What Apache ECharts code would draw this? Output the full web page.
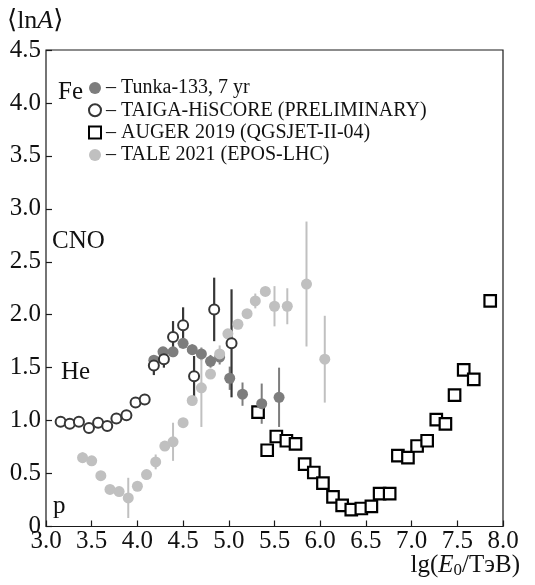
<!DOCTYPE html>
<html>
<head>
<meta charset="utf-8">
<script src="https://cdn.jsdelivr.net/npm/echarts@6/dist/echarts.min.js"></script>
<style>
  html, body { margin: 0; padding: 0; background: #fff; }
  #chart { width: 535px; height: 585px; }
</style>
</head>
<body>
<div id="chart"></div>
<script>
// lg(E0/TeV) and <lnA>
var tunkaX   = [4.18, 4.28, 4.39, 4.50, 4.60, 4.70, 4.80, 4.90, 5.01, 5.15, 5.36, 5.55];
var tunkaY   = [1.57, 1.65, 1.65, 1.73, 1.67, 1.63, 1.56, 1.60, 1.40, 1.25, 1.16, 1.22];
var tunkaErr = [0.03, 0.04, 0.05, 0.05, 0.05, 0.06, 0.06, 0.07, 0.11, 0.11, 0.19, 0.28];

var taigaX   = [3.16, 3.26, 3.36, 3.47, 3.57, 3.67, 3.77, 3.88, 3.98, 4.08, 4.18, 4.29, 4.39, 4.50, 4.62, 4.84, 5.03];
var taigaY   = [0.99, 0.97, 0.99, 0.93, 0.98, 0.95, 1.02, 1.05, 1.17, 1.20, 1.52, 1.58, 1.79, 1.90, 1.42, 2.05, 1.73];
var taigaErr = [0, 0, 0, 0, 0, 0, 0, 0, 0, 0, 0.09, 0.08, 0.15, 0.17, 0.19, 0.30, 0.51];

var augerX = [5.32, 5.42, 5.52, 5.63, 5.73, 5.83, 5.93, 6.03, 6.14, 6.24, 6.34, 6.45, 6.56, 6.65, 6.76, 6.85, 6.96, 7.06, 7.17, 7.27, 7.37, 7.47, 7.57, 7.68, 7.86];
var augerY = [1.08, 0.72, 0.85, 0.81, 0.78, 0.59, 0.51, 0.41, 0.28, 0.20, 0.16, 0.17, 0.19, 0.31, 0.31, 0.67, 0.65, 0.76, 0.81, 1.01, 0.97, 1.24, 1.48, 1.39, 2.13];

var taleX   = [3.40, 3.50, 3.60, 3.70, 3.80, 3.90, 4.00, 4.10, 4.20, 4.30, 4.39, 4.50, 4.60, 4.70, 4.80, 4.90, 4.99, 5.10, 5.20, 5.29, 5.40, 5.50, 5.64, 5.85, 6.05];
var taleY   = [0.65, 0.62, 0.48, 0.35, 0.33, 0.27, 0.38, 0.49, 0.61, 0.76, 0.80, 0.98, 1.19, 1.31, 1.44, 1.63, 1.82, 1.91, 2.01, 2.13, 2.22, 2.08, 2.08, 2.29, 1.58];
var taleErr = [0.05, 0.03, 0, 0, 0, 0.19, 0, 0.04, 0.07, 0.03, 0.18, 0, 0, 0.37, 0, 0.08, 0, 0, 0, 0.07, 0, 0.19, 0.17, 0.59, 0.41];

var names = ['Tunka-133, 7 yr', 'TAIGA-HiSCORE (PRELIMINARY)', 'AUGER 2019 (QGSJET-II-04)', 'TALE 2021 (EPOS-LHC)'];
var xTicks = { min: 3, max: 8, step: 0.5 };
var yTicks = { min: 0, max: 4.5, step: 0.5 };

var serif = "'Liberation Serif', 'DejaVu Serif', serif";

function pts(xs, ys) {
  return xs.map(function (x, i) { return [x, ys[i]]; });
}
function bars(xs, ys, es) {
  var out = [];
  xs.forEach(function (x, i) {
    if (es[i] > 0) out.push([x, ys[i] - es[i], ys[i] + es[i]]);
  });
  return out;
}
function errSeries(name, data, color, w) {
  return {
    name: name,
    type: 'custom',
    data: data,
    encode: { x: 0, y: [1, 2] },
    silent: true,
    renderItem: function (params, api) {
      var a = api.coord([api.value(0), api.value(1)]);
      var b = api.coord([api.value(0), api.value(2)]);
      return {
        type: 'line',
        shape: { x1: a[0], y1: a[1], x2: b[0], y2: b[1] },
        style: { stroke: color, lineWidth: w }
      };
    }
  };
}

var chart = echarts.init(document.getElementById('chart'));

var option = {
  animation: false,
  backgroundColor: '#fff',
  grid: {
    left: 46, right: 32, top: 50, bottom: 58.5,
    show: true, borderColor: '#1a1a1a', borderWidth: 1.2, backgroundColor: 'transparent'
  },
  xAxis: {
    type: 'value',
    min: xTicks.min, max: xTicks.max, interval: xTicks.step,
    axisLine: { show: false },
    axisTick: { show: true, inside: true, length: 6, lineStyle: { color: '#1a1a1a', width: 1.2 } },
    splitLine: { show: false },
    axisLabel: {
      margin: 2, color: '#111', fontFamily: serif, fontSize: 25,
      formatter: function (v) { return v.toFixed(1); }
    }
  },
  yAxis: {
    type: 'value',
    min: yTicks.min, max: yTicks.max, interval: yTicks.step,
    axisLine: { show: false },
    axisTick: { show: true, inside: true, length: 6, lineStyle: { color: '#1a1a1a', width: 1.2 } },
    splitLine: { show: false },
    axisLabel: {
      margin: 5, color: '#111', fontFamily: serif, fontSize: 25,
      formatter: function (v) { return v === 0 ? '0' : v.toFixed(1); }
    }
  },
  legend: {
    data: names,
    orient: 'vertical',
    left: 88, top: 78, padding: 0,
    itemWidth: 12, itemHeight: 12, itemGap: 2.3,
    textStyle: { fontFamily: serif, fontSize: 20, lineHeight: 20, color: '#111' },
    formatter: function (n) { return '\u2013 ' + n; }
  },
  graphic: [
    { type: 'text', left: 7, top: 8, style: {
      text: '\u27E8ln{i|A}\u27E9', fontFamily: serif, fontSize: 26, fill: '#111',
      rich: { i: { fontStyle: 'italic', fontFamily: serif, fontSize: 26 } } } },
    { type: 'text', right: 15, top: 553, style: {
      text: 'lg({i|E}{s|0}/\u0422\u044D\u0412)', fontFamily: serif, fontSize: 25, fill: '#111',
      rich: {
        i: { fontStyle: 'italic', fontFamily: serif, fontSize: 25 },
        s: { fontFamily: serif, fontSize: 17, padding: [11, 0, 0, 0] }
      } } },
    { type: 'text', left: 58, top: 80, style: { text: 'Fe', fontFamily: serif, fontSize: 25, fill: '#111' } },
    { type: 'text', left: 52, top: 229, style: { text: 'CNO', fontFamily: serif, fontSize: 25, fill: '#111' } },
    { type: 'text', left: 61, top: 360, style: { text: 'He', fontFamily: serif, fontSize: 25, fill: '#111' } },
    { type: 'text', left: 53, top: 494, style: { text: 'p', fontFamily: serif, fontSize: 25, fill: '#111' } }
  ],
  series: [
    {
      name: names[2], type: 'scatter', data: pts(augerX, augerY),
      symbol: 'rect', symbolSize: 11.5,
      itemStyle: { color: '#fff', borderColor: '#000', borderWidth: 2.2, opacity: 1 }
    },
    errSeries('tunkaErr', bars(tunkaX, tunkaY, tunkaErr), '#7d7d7d', 2),
    {
      name: names[0], type: 'scatter', data: pts(tunkaX, tunkaY),
      symbol: 'circle', symbolSize: 11,
      itemStyle: { color: '#7d7d7d', opacity: 1 }
    },
    errSeries('taleErr', bars(taleX, taleY, taleErr), '#c0c0c0', 2),
    {
      name: names[3], type: 'scatter', data: pts(taleX, taleY),
      symbol: 'circle', symbolSize: 11,
      itemStyle: { color: '#c0c0c0', opacity: 1 }
    },
    errSeries('taigaErr', bars(taigaX, taigaY, taigaErr), '#363636', 2.2),
    {
      name: names[1], type: 'scatter', data: pts(taigaX, taigaY),
      symbol: 'circle', symbolSize: 10,
      itemStyle: { color: '#fff', borderColor: '#363636', borderWidth: 2, opacity: 1 }
    }
  ]
};

chart.setOption(option);
</script>
</body>
</html>
